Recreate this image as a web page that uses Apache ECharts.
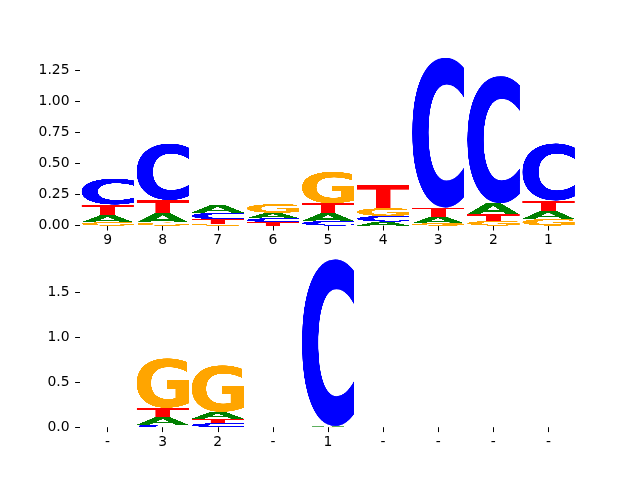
<!DOCTYPE html>
<html>
<head>
<meta charset="utf-8">
<script src="https://cdn.jsdelivr.net/npm/echarts@6/dist/echarts.min.js"></script>
<style>
  html, body { margin: 0; padding: 0; background: #fff; }
  #chart { width: 640px; height: 480px; }
</style>
</head>
<body>
<div id="chart"></div>
<script>
// top logo, positions read left to right
const topLabels = ['9', '8', '7', '6', '5', '4', '3', '2', '1'];
const topA = [0.056, 0.075, 0.060, 0.043, 0.062, 0.032, 0.054, 0.088, 0.067];
const topC = [0.209, 0.455, 0.055, 0.032, 0.037, 0.046, 1.207, 1.025, 0.460];
const topG = [0.027, 0.025, 0.015, 0.070, 0.254, 0.062, 0.019, 0.037, 0.054];
const topT = [0.086, 0.105, 0.035, 0.028, 0.080, 0.187, 0.072, 0.054, 0.080];

// bottom logo
const botLabels = ['-', '3', '2', '-', '1', '-', '-', '-', '-'];
const botA = [0, 0.085, 0.075, 0, 0.007, 0, 0, 0, 0];
const botC = [0, 0.026, 0.045, 0, 1.862, 0, 0, 0, 0];
const botG = [0, 0.553, 0.520, 0, 0.004, 0, 0, 0, 0];
const botT = [0, 0.104, 0.050, 0, 0, 0, 0, 0, 0];

const topTicks = [0, 0.25, 0.5, 0.75, 1.0, 1.25];
const botTicks = [0, 0.5, 1.0, 1.5];

const letters = ['A', 'C', 'G', 'T'];
const letterColors = { A: '#008000', C: '#0000ff', G: '#ffa500', T: '#ff0000' };

// render each letter once, cropped to its ink box, so it can be stretched to a box
function makeGlyph(ch, color) {
  const c = document.createElement('canvas');
  c.width = 600; c.height = 600;
  const ctx = c.getContext('2d');
  ctx.font = 'bold 400px "DejaVu Sans"';
  ctx.fillStyle = color;
  ctx.textBaseline = 'alphabetic';
  ctx.fillText(ch, 100, 450);
  const d = ctx.getImageData(0, 0, 600, 600).data;
  let x0 = 600, y0 = 600, x1 = -1, y1 = -1;
  for (let y = 0; y < 600; y++) {
    for (let x = 0; x < 600; x++) {
      if (d[(y * 600 + x) * 4 + 3] > 0) {
        if (x < x0) x0 = x;
        if (x > x1) x1 = x;
        if (y < y0) y0 = y;
        if (y > y1) y1 = y;
      }
    }
  }
  const out = document.createElement('canvas');
  out.width = x1 - x0 + 1; out.height = y1 - y0 + 1;
  out.getContext('2d').drawImage(c, x0, y0, out.width, out.height, 0, 0, out.width, out.height);
  return out;
}
const glyphs = {};
letters.forEach(l => { glyphs[l] = makeGlyph(l, letterColors[l]); });

// stack letters per position, smallest at the bottom
function buildStacks(A, C, G, T) {
  const out = [];
  let maxH = 0;
  for (let i = 0; i < A.length; i++) {
    const items = [[0, A[i]], [1, C[i]], [2, G[i]], [3, T[i]]].sort((a, b) => a[1] - b[1]);
    let y = 0;
    items.forEach(it => {
      if (it[1] > 0) {
        out.push([i, y, y + it[1], it[0]]);
        y += it[1];
      }
    });
    maxH = Math.max(maxH, y);
  }
  return { data: out, max: maxH };
}
const topStack = buildStacks(topA, topC, topG, topT);
const botStack = buildStacks(botA, botC, botG, botT);

function renderLetter(params, api) {
  const i = api.value(0);
  const p0 = api.coord([i, api.value(1)]);
  const p1 = api.coord([i, api.value(2)]);
  const w = api.size([1, 0])[0] * 0.95;
  return {
    type: 'image',
    style: {
      image: glyphs[letters[api.value(3)]],
      x: p0[0] - w / 2,
      y: p1[1],
      width: w,
      height: p0[1] - p1[1]
    }
  };
}

const font = 'DejaVu Sans';
function xAxisOf(gridIndex, labels) {
  return {
    type: 'category',
    gridIndex: gridIndex,
    data: labels,
    boundaryGap: true,
    axisLine: { show: false },
    axisTick: { show: true, alignWithLabel: true, length: 4.9, lineStyle: { color: '#000', width: 1 } },
    axisLabel: { interval: 0, color: '#000', fontFamily: font, fontSize: 13.9, margin: 8 },
    splitLine: { show: false }
  };
}
function yAxisOf(gridIndex, max, ticks, digits) {
  return {
    type: 'value',
    gridIndex: gridIndex,
    min: 0,
    max: max,
    axisLine: { show: false },
    splitLine: { show: false },
    axisTick: { show: true, customValues: ticks, length: 4.9, lineStyle: { color: '#000', width: 1 } },
    axisLabel: {
      customValues: ticks,
      color: '#000', fontFamily: font, fontSize: 13.9, margin: 10.5,
      formatter: v => v.toFixed(digits)
    }
  };
}

const chart = echarts.init(document.getElementById('chart'), null, { renderer: 'canvas' });
chart.setOption({
  animation: false,
  backgroundColor: '#fff',
  grid: [
    { left: 80, right: 64, top: 57.6, height: 168 },
    { left: 80, right: 64, top: 259.2, height: 168 }
  ],
  xAxis: [xAxisOf(0, topLabels), xAxisOf(1, botLabels)],
  yAxis: [
    yAxisOf(0, topStack.max, topTicks, 2),
    yAxisOf(1, botStack.max, botTicks, 1)
  ],
  series: [
    { type: 'custom', xAxisIndex: 0, yAxisIndex: 0, data: topStack.data, renderItem: renderLetter, clip: false },
    { type: 'custom', xAxisIndex: 1, yAxisIndex: 1, data: botStack.data, renderItem: renderLetter, clip: false }
  ]
});
</script>
</body>
</html>
